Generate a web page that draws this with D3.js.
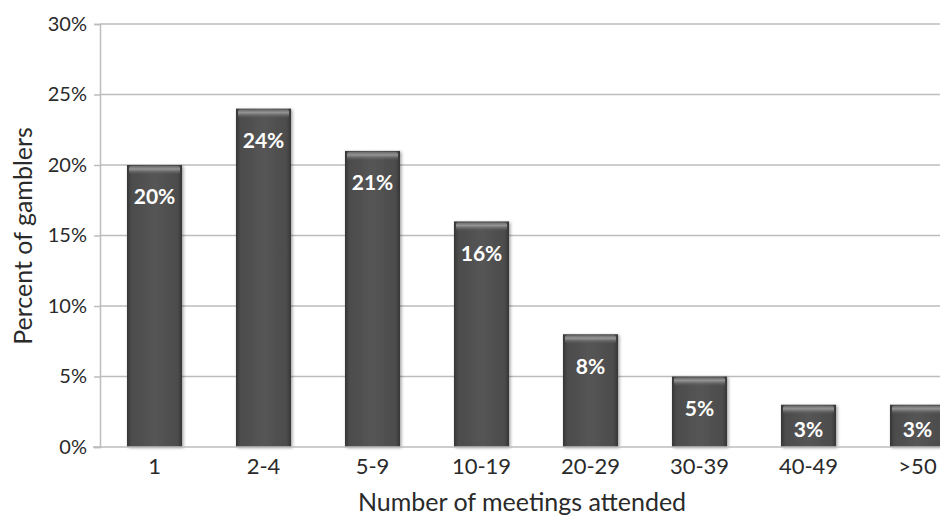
<!DOCTYPE html>
<html>
<head>
<meta charset="utf-8">
<script src="https://cdn.jsdelivr.net/npm/d3@7"></script>
<style>
  html, body { margin: 0; padding: 0; background: #fff; }
  svg { display: block; }
  text { font-family: Lato, "Open Sans", sans-serif; }
</style>
</head>
<body>
<svg id="chart" width="940" height="518"></svg>
<script>
// Share of gamblers by number of meetings attended
const categories = ["1", "2-4", "5-9", "10-19", "20-29", "30-39", "40-49", ">50"];
const percents = [20, 24, 21, 16, 8, 5, 3, 3];
const yTicks = [0, 5, 10, 15, 20, 25, 30];

const svg = d3.select("#chart");
const plotLeft = 100, plotRight = 972, plotTop = 24, plotBottom = 447;

const x = d3.scaleBand().domain(categories).range([plotLeft, plotRight]).paddingInner(0.495).paddingOuter(0.2475);
const y = d3.scaleLinear().domain([0, 30]).range([plotBottom, plotTop]);

const defs = svg.append("defs");
const body = defs.append("linearGradient").attr("id", "barBody").attr("x1", 0).attr("x2", 1).attr("y1", 0).attr("y2", 0);
body.append("stop").attr("offset", "0%").attr("stop-color", "#353535");
body.append("stop").attr("offset", "8%").attr("stop-color", "#4c4c4c");
body.append("stop").attr("offset", "50%").attr("stop-color", "#555555");
body.append("stop").attr("offset", "92%").attr("stop-color", "#4c4c4c");
body.append("stop").attr("offset", "100%").attr("stop-color", "#353535");
const cap = defs.append("linearGradient").attr("id", "barCap").attr("x1", 0).attr("x2", 0).attr("y1", 0).attr("y2", 1);
cap.append("stop").attr("offset", "0%").attr("stop-color", "#6a6a6a");
cap.append("stop").attr("offset", "35%").attr("stop-color", "#959595");
cap.append("stop").attr("offset", "100%").attr("stop-color", "#555555").attr("stop-opacity", 0);
const shadow = defs.append("filter").attr("id", "shadow").attr("x", "-20%").attr("y", "-20%").attr("width", "140%").attr("height", "140%");
shadow.append("feDropShadow").attr("dx", 1.5).attr("dy", 1).attr("stdDeviation", 1.5).attr("flood-color", "#000").attr("flood-opacity", 0.35);

// Gridlines
svg.append("g")
  .selectAll("line").data(yTicks.filter(d => d > 0)).join("line")
  .attr("x1", plotLeft).attr("x2", 940)
  .attr("y1", d => y(d)).attr("y2", d => y(d))
  .attr("stroke", "#bdbdbd").attr("stroke-width", 1.5);

// Y axis
const yAxis = svg.append("g").attr("transform", `translate(${plotLeft},0)`)
  .call(d3.axisLeft(y).tickValues(yTicks).tickFormat(d => d + "%").tickSize(6).tickPadding(7));
yAxis.select(".domain").attr("stroke", "#bdbdbd").attr("stroke-width", 1.5);
yAxis.selectAll(".tick line").attr("stroke", "#bdbdbd").attr("stroke-width", 1.5);
yAxis.selectAll(".tick text").attr("font-size", 20).attr("fill", "#2a2a2a")
  .style("font-family", "Lato, 'Open Sans', sans-serif");

// Bars
const bars = svg.append("g").selectAll("g").data(categories).join("g");
bars.append("rect")
  .attr("x", d => x(d)).attr("width", x.bandwidth())
  .attr("y", (d, i) => y(percents[i])).attr("height", (d, i) => plotBottom - y(percents[i]))
  .attr("fill", "url(#barBody)").attr("filter", "url(#shadow)");
bars.append("rect")
  .attr("x", d => x(d) + 2).attr("width", x.bandwidth() - 4)
  .attr("y", (d, i) => y(percents[i]) + 1).attr("height", 9)
  .attr("rx", 2)
  .attr("fill", "url(#barCap)");

// X axis
const xAxis = svg.append("g").attr("transform", `translate(0,${plotBottom})`)
  .call(d3.axisBottom(x).tickSize(0).tickPadding(11));
xAxis.select(".domain").attr("d", `M93,0H940`).attr("stroke", "#bdbdbd").attr("stroke-width", 1.5);
xAxis.selectAll(".tick text").attr("font-size", 22).attr("fill", "#2a2a2a")
  .style("font-family", "Lato, 'Open Sans', sans-serif");

// Value labels inside the bars
bars.append("text")
  .attr("x", d => x(d) + x.bandwidth() / 2)
  .attr("y", (d, i) => {
    const h = plotBottom - y(percents[i]);
    return y(percents[i]) + Math.min(32, h * 0.58);
  })
  .attr("dy", "0.35em")
  .attr("text-anchor", "middle")
  .attr("font-size", 21).attr("font-weight", "bold").attr("fill", "#ffffff")
  .text((d, i) => percents[i] + "%");

// Axis titles
svg.append("text")
  .attr("x", 522).attr("y", 511)
  .attr("text-anchor", "middle")
  .attr("font-size", 25).attr("fill", "#2a2a2a")
  .text("Number of meetings attended");
svg.append("text")
  .attr("transform", "translate(32,236) rotate(-90)")
  .attr("text-anchor", "middle")
  .attr("font-size", 25).attr("fill", "#2a2a2a")
  .text("Percent of gamblers");
</script>
</body>
</html>
